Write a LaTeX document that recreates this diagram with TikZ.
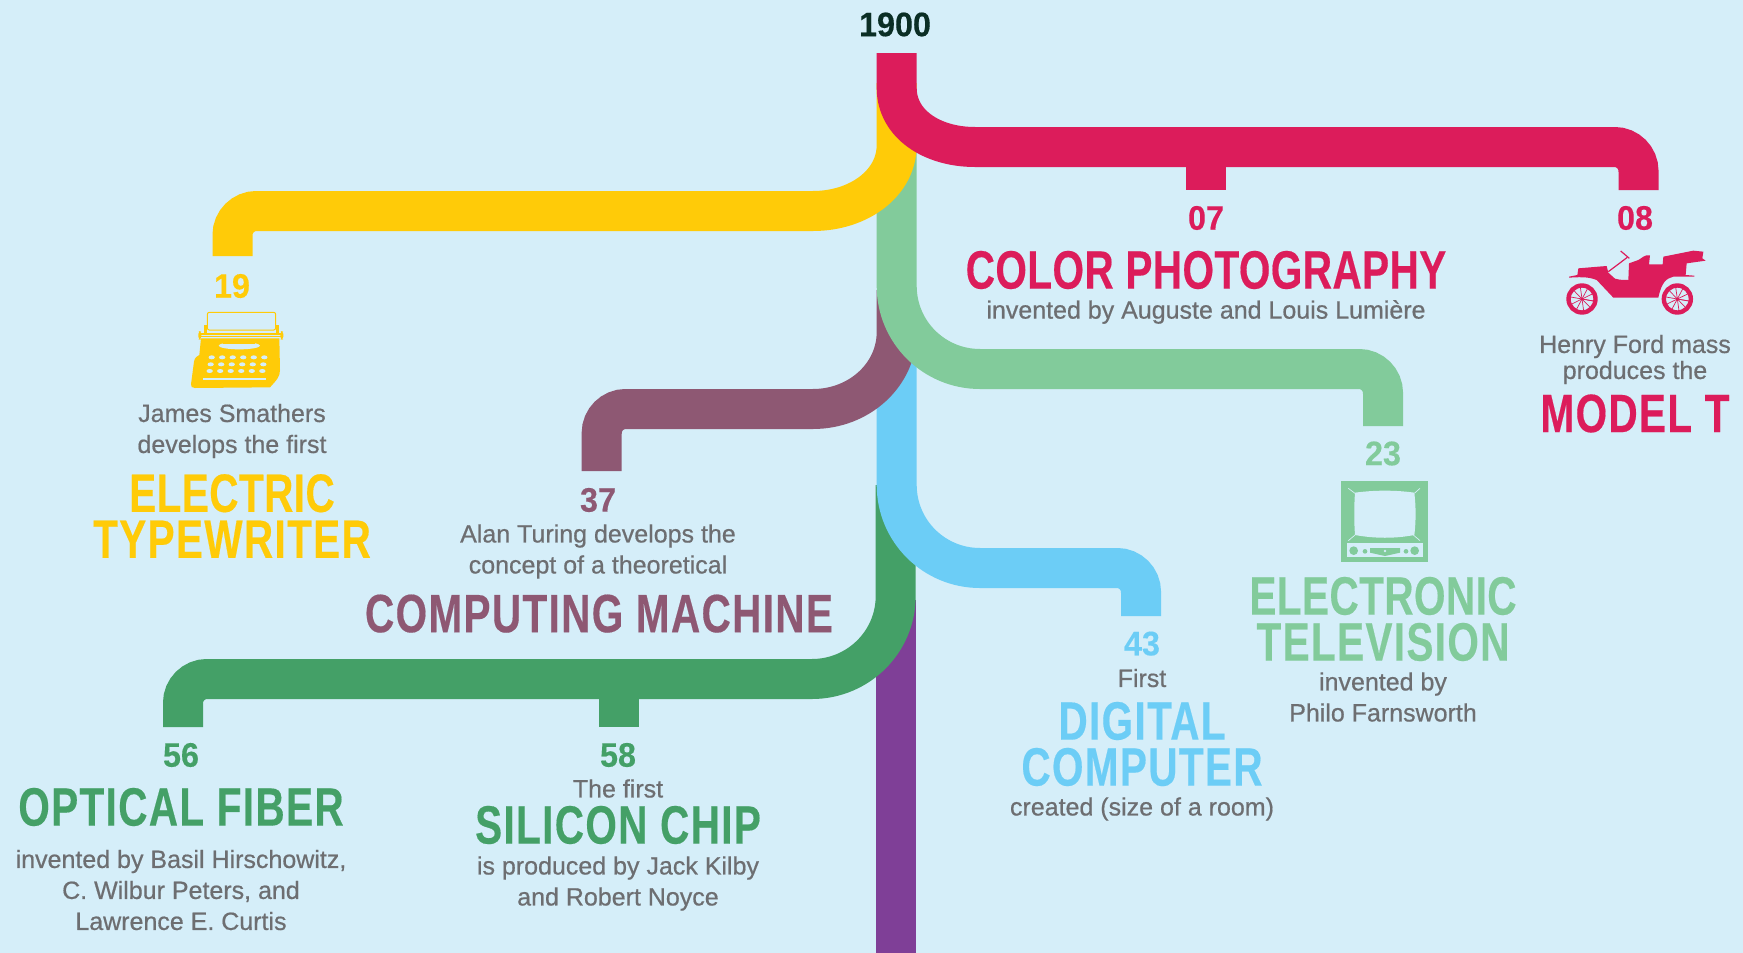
\documentclass[tikz,border=0pt]{standalone}
\usepackage{fontspec}
\setmainfont{Liberation Sans}
\newfontfamily\condfont{Liberation Sans}[FakeStretch=0.75,LetterSpace=2.5,FakeBold=0.3]
\newfontfamily\tightfont{Liberation Sans}[FakeStretch=0.75,LetterSpace=0.8,FakeBold=0.3]
\newfontfamily\yearfont{Liberation Sans}[FakeStretch=0.95,FakeBold=0.3]
\newfontfamily\bodyfont{Liberation Sans}[FakeBold=0.6]
\definecolor{bgblue}{HTML}{D5EEF9}
\definecolor{redline}{HTML}{DC1C5B}
\definecolor{yellowline}{HTML}{FFCB08}
\definecolor{greenline}{HTML}{82CB9B}
\definecolor{plumline}{HTML}{8E5873}
\definecolor{blueline}{HTML}{6CCDF6}
\definecolor{darkgreenline}{HTML}{44A067}
\definecolor{purpleline}{HTML}{7F3F97}
\definecolor{bodygray}{HTML}{6D6E71}
\definecolor{startgreen}{HTML}{0B2E25}
\tikzset{
  branch/.style={line width=40pt},
  elbow/.style={rounded corners=24pt},
  yeartext/.style={inner sep=0pt, font=\yearfont\bfseries\fontsize{34}{34}\selectfont},
  bodytext/.style={inner sep=0pt, align=center, text=bodygray, font=\bodyfont\fontsize{25}{31}\selectfont},
  titletext/.style={inner sep=0pt, align=center, font=\condfont\bfseries\fontsize{54}{46}\selectfont},
  tighttext/.style={titletext, font=\tightfont\bfseries\fontsize{54}{46}\selectfont}
}
\begin{document}
\begin{tikzpicture}[x=1pt,y=-1pt]
\useasboundingbox[fill=bgblue] (0,0) rectangle (1743,953);

\coordinate (top) at (896.7,53);
\coordinate (redend) at (1638.5,190);
\coordinate (stubseven) at (1206,190);
\coordinate (yellowend) at (232.5,256);
\coordinate (greenend) at (1383,426);
\coordinate (plumend) at (601.7,471);
\coordinate (blueend) at (1141,616);
\coordinate (fiberend) at (183,727);
\coordinate (chipend) at (618.5,727);
\coordinate (bottom) at (895.7,953);

\draw[branch, purpleline] (895.7,600) -- (bottom);
\draw[branch, darkgreenline] (895.7,485) -- (895.7,596) .. controls (895.7,642) and (858,679) .. (812,679) [elbow] -| (fiberend);
\draw[branch, darkgreenline] (618.5,679) -- (chipend);
\draw[branch, blueline] (896.7,360) -- (896.7,485) .. controls (896.7,531) and (934,568) .. (980,568) [elbow] -| (blueend);
\draw[branch, plumline] (896.7,290) -- (896.7,332) .. controls (896.7,375) and (859,409) .. (813,409) [elbow] -| (plumend);
\draw[branch, greenline] (896.7,150) -- (896.7,286) .. controls (896.7,332) and (934,369) .. (980,369) [elbow] -| (greenend);
\draw[branch, yellowline] (896.7,83) -- (896.7,145) .. controls (896.7,183) and (859,211) .. (813,211) [elbow] -| (yellowend);
\draw[branch, redline] (top) -- (896.7,88) .. controls (896.7,124) and (932,147) .. (975,147) [elbow] -| (redend);
\draw[branch, redline] (1206,147) -- (stubseven);

\node[yeartext, text=startgreen] (yearstart) at (895,24.5) {1900};

\node[yeartext, text=redline] (yearseven) at (1206,218) {07};
\node[tighttext, text=redline] (titleseven) at (1206,270) {COLOR PHOTOGRAPHY};
\node[bodytext] (bodyseven) at (1206,312) {invented by Auguste and Louis Lumi\`ere};

\node[yeartext, text=redline] (yeareight) at (1635,218) {08};
\node[bodytext] (bodyeight) at (1635,359.5) {Henry Ford mass\\[-5pt]produces the};
\node[titletext, text=redline] (titleeight) at (1635,413.5) {MODEL T};

\node[yeartext, text=yellowline] (yearnineteen) at (232,286) {19};
\node[bodytext] (bodynineteen) at (232,431) {James Smathers\\develops the first};
\node[titletext, text=yellowline] (titlenineteen) at (232,516) {{\tightfont ELECTRIC}\\TYPEWRITER};

\node[yeartext, text=plumline] (yearthirtyseven) at (598,500) {37};
\node[bodytext] (bodythirtyseven) at (598,551.5) {Alan Turing develops the\\concept of a theoretical};
\node[titletext, text=plumline] (titlethirtyseven) at (599,613.6) {COMPUTING MACHINE};

\node[yeartext, text=greenline] (yeartwentythree) at (1383,453.5) {23};
\node[titletext, text=greenline] (titletwentythree) at (1383,619) {{\tightfont ELECTRONIC}\\TELEVISION};
\node[bodytext] (bodytwentythree) at (1383,697) {invented by\\Philo Farnsworth};

\node[yeartext, text=blueline] (yearfortythree) at (1142,643.6) {43};
\node[bodytext] (bodyfortythree) at (1142,678) {First};
\node[titletext, text=blueline] (titlefortythree) at (1142,744) {DIGITAL\\COMPUTER};
\node[bodytext] (notefortythree) at (1142,809) {created (size of a room)};

\node[yeartext, text=darkgreenline] (yearfiftysix) at (181,755) {56};
\node[titletext, text=darkgreenline] (titlefiftysix) at (181,807) {OPTICAL FIBER};
\node[bodytext] (bodyfiftysix) at (181,890) {invented by Basil Hirschowitz,\\C. Wilbur Peters, and\\Lawrence E. Curtis};

\node[yeartext, text=darkgreenline] (yearfiftyeight) at (618,755) {58};
\node[bodytext] (notefiftyeight) at (618,788.5) {The first};
\node[titletext, text=darkgreenline] (titlefiftyeight) at (618,825) {SILICON CHIP};
\node[bodytext] (bodyfiftyeight) at (618,883.5) {is produced by Jack Kilby\\and Robert Noyce};

\begin{scope}[shift={(170,270)},scale=1/3]
\draw[yellowline, line width=1pt, rounded corners=2pt] (112,180) rectangle (317,127);
\fill[yellowline] (103,165) rectangle (112,188);
\fill[yellowline] (317,165) rectangle (327,188);
\fill[yellowline, rounded corners=3pt] (85,183) rectangle (94,209);
\fill[yellowline, rounded corners=3pt] (331,183) rectangle (340,209);
\fill[yellowline] (90,188) rectangle (335,194);
\fill[yellowline] (90,198) rectangle (335,201);
\fill[yellowline] (93,205) -- (328,205) -- (330,300) .. controls (330,320) and (320,330) .. (300,352) -- (75,354) .. controls (66,354) and (62,350) .. (63,343) -- (72,275) .. controls (74,262) and (82,258) .. (88,255) -- cycle;
\fill[bgblue] (208,227) ellipse (62 and 11);
\fill[yellowline] (160,214) rectangle (256,222);
\foreach \i in {0,...,5} {
  \fill[bgblue] (125+31.6*\i,262) ellipse (9.5 and 6);
  \fill[bgblue] (122+31.6*\i,283) ellipse (9.5 and 6);
  \fill[bgblue] (119+31.6*\i,303) ellipse (9.5 and 6);
}
\fill[bgblue] (100,324) rectangle (288,329);
\end{scope}

\begin{scope}[shift={(1540,230)},scale=1/3]
\fill[redline] (87,140) -- (112,135) -- (115,115) -- (175,110) -- (200,108) -- (205,128) -- (225,146) .. controls (240,150) and (250,150) .. (265,150) -- (267,100) -- (295,90) .. controls (305,85) and (315,72) .. (330,76) -- (327,103) -- (368,103) -- (370,80) -- (460,62) -- (490,65) -- (487,85) -- (497,92) -- (440,100) -- (437,135) -- (463,137) -- (463,140) -- (400,140) .. controls (380,145) and (365,155) .. (355,203) -- (220,203) -- (170,150) .. controls (150,142) and (130,140) .. (87,143) -- cycle;
\draw[redline, line width=1.2pt] (205,125) -- (262,82);
\draw[redline, line width=1.2pt] (242,63) -- (268,85);
\foreach \c in {126,412} {
  \draw[redline, line width=4.4pt] (\c,207) circle (40.5);
  \foreach \a in {10,46,...,370} {
    \draw[redline, line width=0.7pt] (\c,207) -- ++(\a:36);
  }
  \fill[redline] (\c,207) circle (5);
}
\end{scope}

\begin{scope}[shift={(1320,470)},scale=1/3]
\fill[greenline] (63,34) rectangle (323,275);
\fill[bgblue] (105,68) .. controls (165,60) and (225,60) .. (283,68) .. controls (288,110) and (288,155) .. (283,195) .. controls (225,206) and (165,206) .. (105,195) .. controls (102,155) and (102,110) .. (105,68) -- cycle;
\draw[bgblue, line width=0.7pt] (85,55) -- (105,70);
\draw[bgblue, line width=0.7pt] (300,55) -- (283,70);
\draw[bgblue, line width=0.7pt] (85,212) -- (105,195);
\draw[bgblue, line width=0.7pt] (300,212) -- (280,195);
\fill[bgblue] (80,218) rectangle (308,260);
\fill[greenline] (101,242) circle (13);
\fill[greenline] (284,242) circle (13);
\fill[greenline] (135,244) circle (7);
\fill[greenline] (258,244) circle (7);
\fill[greenline] (150,234) -- (240,234) -- (240,248) -- (195,258) -- (150,248) -- cycle;
\fill[bgblue] (195,243) circle (4);
\end{scope}
\end{tikzpicture}
\end{document}
